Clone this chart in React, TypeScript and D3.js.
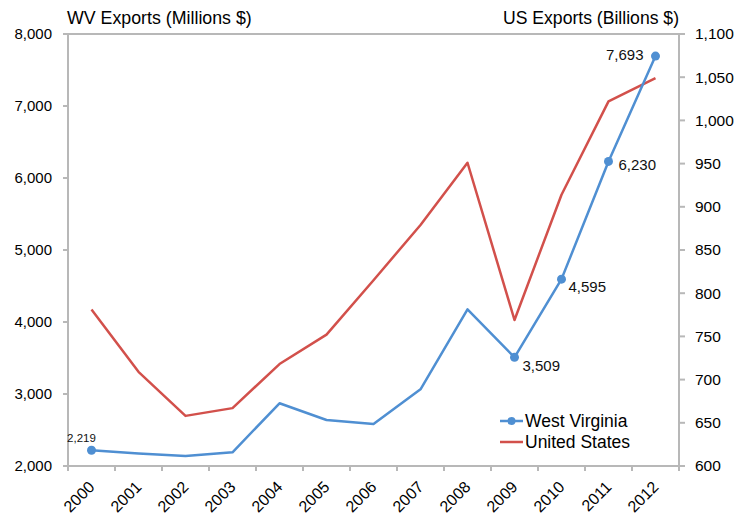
import React from 'react';
import * as d3 from 'd3';

const years = ['2000', '2001', '2002', '2003', '2004', '2005', '2006', '2007', '2008', '2009', '2010', '2011', '2012'];
const wvExports = [2219, 2175, 2139, 2190, 2871, 2639, 2583, 3065, 4175, 3509, 4595, 6230, 7693];
const usExports = [781, 709, 658, 667, 718, 752, 815, 879, 951, 769, 914, 1022, 1049];
const wvTicks = [2000, 3000, 4000, 5000, 6000, 7000, 8000];
const usTicks = [600, 650, 700, 750, 800, 850, 900, 950, 1000, 1050, 1100];
// points that carry a marker and a value label
const wvMarked = ['2000', '2009', '2010', '2011', '2012'];

const width = 739;
const height = 514;
const margin = { top: 34, right: 60, bottom: 48, left: 68 };
const font = "'Liberation Sans', Arial, Helvetica, sans-serif";
const blue = '#4f8fd2';
const red = '#d2504b';
const axisGrey = '#b8b8b8';

export default function App() {
    const x = d3.scaleBand<string>().domain(years).range([margin.left, width - margin.right]);
    const yL = d3.scaleLinear().domain([2000, 8000]).range([height - margin.bottom, margin.top]);
    const yR = d3.scaleLinear().domain([600, 1100]).range([height - margin.bottom, margin.top]);
    const cx = (yr: string) => (x(yr) as number) + x.bandwidth() / 2;

    const wvLine = d3.line<number>().x((_, i) => cx(years[i])).y(d => yL(d));
    const usLine = d3.line<number>().x((_, i) => cx(years[i])).y(d => yR(d));

    const x0 = margin.left;
    const x1 = width - margin.right;
    const yTop = margin.top;
    const yBot = height - margin.bottom;
    const fmt = d3.format(',');

    // label placement for the marked points
    const labelPos: Record<string, { dx: number; dy: number; anchor: string; size: number }> = {
        '2000': { dx: -10, dy: -8, anchor: 'middle', size: 11.5 },
        '2009': { dx: 8, dy: 14, anchor: 'start', size: 15 },
        '2010': { dx: 7, dy: 13, anchor: 'start', size: 15 },
        '2011': { dx: 10, dy: 9, anchor: 'start', size: 15 },
        '2012': { dx: -12, dy: 4, anchor: 'end', size: 15 },
    };

    return (
        <svg width={width} height={height} style={{ position: 'absolute', left: 0, top: 0, background: '#fff' }} fontFamily={font}>
            {/* titles */}
            <text x={x0 - 1} y={24} fontSize={17.8} fill="#000">WV Exports (Millions $)</text>
            <text x={x1} y={24} fontSize={17.6} fill="#000" textAnchor="end">US Exports (Billions $)</text>

            {/* frame */}
            <rect x={x0} y={yTop} width={x1 - x0} height={yBot - yTop} fill="none" stroke={axisGrey} strokeWidth={2} />

            {/* left axis */}
            {wvTicks.map(t => (
                <g key={'l' + t}>
                    <line x1={x0 - 5} x2={x0} y1={yL(t)} y2={yL(t)} stroke={axisGrey} strokeWidth={2} />
                    <text x={x0 - 16} y={yL(t)} dy="0.35em" textAnchor="end" fontSize={15} fill="#000">{fmt(t)}</text>
                </g>
            ))}

            {/* right axis */}
            {usTicks.map(t => (
                <g key={'r' + t}>
                    <line x1={x1} x2={x1 + 6} y1={yR(t)} y2={yR(t)} stroke={axisGrey} strokeWidth={2} />
                    <text x={x1 + 16} y={yR(t)} dy="0.35em" textAnchor="start" fontSize={15.5} fill="#000">{fmt(t)}</text>
                </g>
            ))}

            {/* bottom axis */}
            {years.map((yr, i) => (
                <g key={'b' + yr}>
                    <line x1={x(yr) as number} x2={x(yr) as number} y1={yBot} y2={yBot + 5} stroke={axisGrey} strokeWidth={2} />
                    {i === years.length - 1 && (
                        <line x1={x1} x2={x1} y1={yBot} y2={yBot + 5} stroke={axisGrey} strokeWidth={2} />
                    )}
                    <text transform={`translate(${cx(yr) + 4},${yBot + 22}) rotate(-45)`} textAnchor="end" fontSize={16} fill="#000">{yr}</text>
                </g>
            ))}

            {/* series */}
            <path d={usLine(usExports) as string} fill="none" stroke={red} strokeWidth={2.5} strokeLinejoin="round" />
            <path d={wvLine(wvExports) as string} fill="none" stroke={blue} strokeWidth={2.5} strokeLinejoin="round" />

            {years.map((yr, i) => wvMarked.includes(yr) && (
                <g key={'m' + yr}>
                    <circle cx={cx(yr)} cy={yL(wvExports[i])} r={4.5} fill={blue} />
                    <text x={cx(yr) + labelPos[yr].dx} y={yL(wvExports[i]) + labelPos[yr].dy} textAnchor={labelPos[yr].anchor} fontSize={labelPos[yr].size} fill="#111">{fmt(wvExports[i])}</text>
                </g>
            ))}

            {/* legend */}
            <g transform="translate(500,421)">
                <line x1={0} x2={23} y1={0} y2={0} stroke={blue} strokeWidth={2.5} />
                <circle cx={11.5} cy={0} r={4} fill={blue} />
                <text x={25} y={0} dy="0.35em" fontSize={17.5} fill="#000">West Virginia</text>
                <line x1={0} x2={23} y1={21} y2={21} stroke={red} strokeWidth={2.5} />
                <text x={25} y={21} dy="0.35em" fontSize={17.5} fill="#000">United States</text>
            </g>
        </svg>
    );
}
